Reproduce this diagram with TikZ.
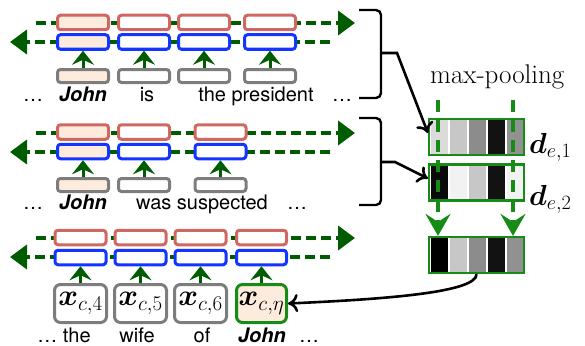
\RequirePackage{fix-cm}
\documentclass[tikz,border=0pt]{standalone}
\usepackage{amsmath}
\usepackage{fontspec}
\newfontfamily\hv{TeX Gyre Heros}
\usetikzlibrary{arrows.meta}

\definecolor{redb}{RGB}{208,104,98}
\definecolor{blueb}{RGB}{20,52,255}
\definecolor{grayb}{RGB}{125,125,125}
\definecolor{peach}{RGB}{253,235,222}
\definecolor{dkgreen}{RGB}{0,92,0}
\definecolor{ltgreen}{RGB}{22,140,22}

\tikzset{
  cell/.style={draw, rounded corners=3pt, line width=3pt, minimum width=51pt,
    minimum height=14.5pt, inner sep=0pt, fill=white},
  fw/.style={cell, draw=redb},
  bw/.style={cell, draw=blueb},
  inp/.style={cell, draw=grayb, minimum height=13pt},
  emb/.style={cell, draw=grayb, rounded corners=6pt, minimum height=38pt,
    minimum width=52pt, font=\fontsize{30}{32}\selectfont},
  hl/.style={fill=peach},
  word/.style={anchor=base, inner sep=0pt, font=\hv\fontsize{20}{22}\selectfont},
  jname/.style={anchor=base, inner sep=0pt, font=\hv\bfseries\itshape\fontsize{20}{22}\selectfont},
  fwline/.style={draw=dkgreen, line width=4pt, dash pattern=on 10pt off 5pt,
    -{Triangle[length=17pt,width=24pt]}},
  upar/.style={draw=dkgreen, line width=3pt, -{Stealth[length=14pt,width=22pt,inset=5pt]}},
  vec/.style={draw=ltgreen, line width=2.2pt, minimum width=95pt, minimum height=36pt, inner sep=0pt},
  pooldash/.style={draw=ltgreen, line width=3.2pt, dash pattern=on 12pt off 8pt,
    -{Stealth[length=22pt,width=25pt,inset=8pt]}},
  blk/.style={draw=black, line width=2.6pt, -{Computer Modern Rightarrow[length=10pt,width=18pt]}},
  brc/.style={draw=black, line width=2.4pt, rounded corners=5pt},
  lab/.style={anchor=base west, inner sep=0pt, font=\fontsize{29}{31}\selectfont}
}

\begin{document}
\begin{tikzpicture}[x=1pt,y=-1pt]
\useasboundingbox (0,0) rectangle (585,345);

% ---------- sentence 1 ----------
\coordinate (f1s) at (36,23);  \coordinate (f1e) at (355,23);
\coordinate (b1s) at (330,42); \coordinate (b1e) at (10,42);
\draw[fwline] (f1s) -- (f1e);
\draw[fwline] (b1s) -- (b1e);
\foreach \x/\n/\h in {83/1/hl,144/2/,204/3/,270/4/}{
  \node[fw,\h] (r1\n) at (\x,22.5) {};
  \node[bw,\h] (u1\n) at (\x,42) {};
  \node[inp,\h] (g1\n) at (\x,76) {};
  \draw[upar] (g1\n.north) -- (u1\n.south);
}
\node[word] (w11) at (33,101) {…};
\node[jname] (w12) at (83,101) {John};
\node[word] (w13) at (147,101) {is};
\node[word] (w14) at (256,101) {the president};
\node[word] (w15) at (342,101) {…};

% ---------- sentence 2 ----------
\coordinate (f2s) at (36,133);  \coordinate (f2e) at (355,133);
\coordinate (b2s) at (330,152); \coordinate (b2e) at (10,152);
\draw[fwline] (f2s) -- (f2e);
\draw[fwline] (b2s) -- (b2e);
\foreach \x/\n/\h in {83/1/hl,144/2/,220.5/3/}{
  \node[fw,\h] (r2\n) at (\x,132) {};
  \node[bw,\h] (u2\n) at (\x,151.5) {};
  \node[inp,\h] (g2\n) at (\x,185) {};
  \draw[upar] (g2\n.north) -- (u2\n.south);
}
\node[word] (w21) at (33,209) {…};
\node[jname] (w22) at (83,209) {John};
\node[word] (w23) at (202,209) {was suspected};
\node[word] (w24) at (297,209) {…};

% ---------- sentence 3 ----------
\coordinate (f3s) at (36,238);  \coordinate (f3e) at (355,238);
\coordinate (b3s) at (330,257); \coordinate (b3e) at (10,257);
\draw[fwline] (f3s) -- (f3e);
\draw[fwline] (b3s) -- (b3e);
\foreach \x/\n in {80.5/1,140.5/2,200.5/3}{
  \node[fw] (r3\n) at (\x,237.5) {};
  \node[bw] (u3\n) at (\x,257.5) {};
}
\node[fw,minimum width=50pt] (r34) at (261.5,237.5) {};
\node[bw,minimum width=50pt] (u34) at (261.5,257.5) {};
\node[emb] (x1) at (80.5,303.5) {$\boldsymbol{x}_{c,4}$};
\node[emb] (x2) at (140.5,303.5) {$\boldsymbol{x}_{c,5}$};
\node[emb] (x3) at (200.5,303.5) {$\boldsymbol{x}_{c,6}$};
\node[emb,draw=ltgreen,fill=peach,minimum width=50pt] (x4) at (261.5,303.5) {$\boldsymbol{x}_{c,\eta}$};
\foreach \n in {1,2,3,4}{ \draw[upar] (x\n.north) -- (u3\n.south); }
\node[word] (w31) at (64,342) {… the};
\node[word] (w32) at (137,342) {wife};
\node[word] (w33) at (202,342) {of};
\node[jname] (w34) at (262,342) {John};
\node[word] (w35) at (309,342) {…};

% ---------- sentence vectors ----------
\node[anchor=base west, inner sep=0pt, font=\fontsize{27}{30}\selectfont] (mp) at (430,83) {max-pooling};

% grey-level stripes of the three vectors (level 100 = white)
\foreach \yt/\yb/\a/\b/\c/\d/\e in {
    120/155/86/78/55/7/57,
    165/200/4/95/78/7/95,
    238/273/0/78/55/7/57}{
  \foreach \g [count=\i from 0] in {\a,\b,\c,\d,\e}{
    \pgfmathsetmacro\lev{100-\g}
    \fill[black!\lev] (430.5+19*\i,\yt) rectangle ++(17,\yb-\yt);
  }
}
\node[vec] (d1) at (476.5,137) {};
\node[vec] (d2) at (476.5,182.5) {};
\node[vec] (pool) at (476.5,255) {};
\node[lab] (d1l) at (529,153) {$\boldsymbol{d}_{e,1}$};
\node[lab] (d2l) at (529,205) {$\boldsymbol{d}_{e,2}$};

\coordinate (v1) at (438,100);
\coordinate (v2) at (513,100);
\draw[pooldash] (v1) -- (v1 |- pool.north);
\draw[pooldash] (v2) -- (v2 |- pool.north);

% ---------- braces and arrows ----------
\coordinate (t1) at (381,53);
\coordinate (k1) at (397,53);
\draw[brc] (359,10) -| (t1);
\draw[brc] (359,98) -| (t1);
\draw[blk] (t1) -- (k1) -- ([yshift=4pt]d1.west);

\coordinate (t2) at (381,162);
\coordinate (k2) at (395,162);
\draw[brc] (359,118) -| (t2);
\draw[brc] (359,205) -| (t2);
\draw[blk] (t2) -- (k2) -- ([yshift=4pt]d2.west);

\draw[blk] (pool.south) .. controls (477,292) and (390,299) .. (x4.east);
\end{tikzpicture}
\end{document}
